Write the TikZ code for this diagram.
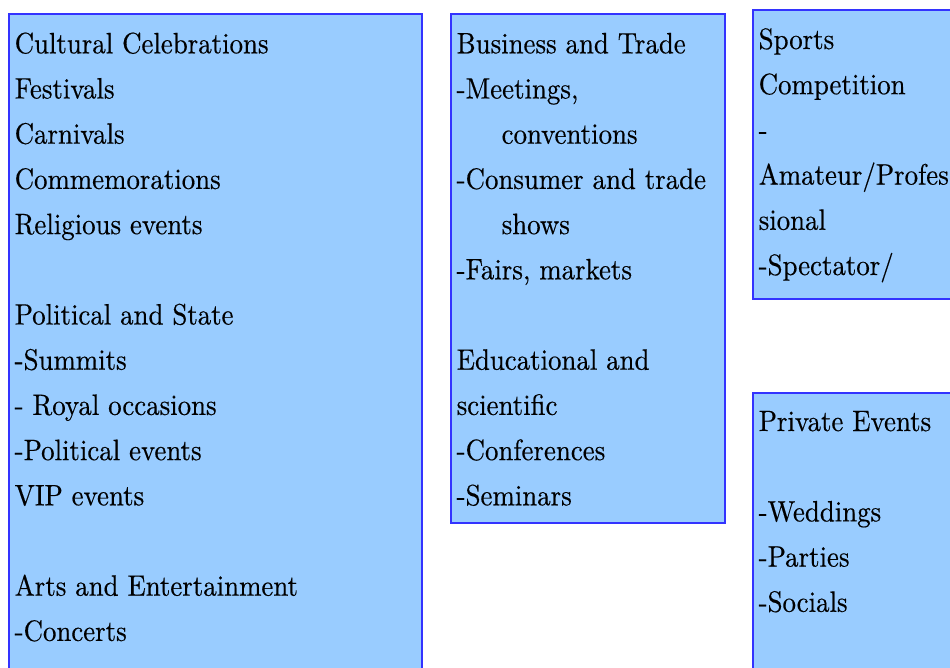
\documentclass[tikz,border=0pt]{standalone}
\usepackage{fontspec}
\newfontfamily\boxfont{lmroman10-regular.otf}[FakeStretch=0.91,FakeBold=0.4]
\definecolor{boxfill}{HTML}{99CCFF}
\definecolor{boxline}{HTML}{3333FF}
\begin{document}
\begin{tikzpicture}[x=1pt,y=-1pt,
  catbox/.style={draw=boxline,fill=boxfill,line width=2pt},
  txt/.style={anchor=base west,inner sep=0pt,font=\boxfont\fontsize{29.5}{30}\selectfont}]
\clip (0,0) rectangle (950,667);
\useasboundingbox (0,0) rectangle (950,667);
% boxes
\draw[catbox] (9,14) rectangle (422,700);
\draw[catbox] (451,14) rectangle (725,523);
\draw[catbox] (753,10) rectangle (990,299);
\draw[catbox] (753,393) rectangle (990,700);
% left box
\def\ls{45.2}
\node[txt] (l1) at (14.5,53.3) {Cultural Celebrations};
\node[txt] (l2) at (14.5,53.3+1*\ls) {Festivals};
\node[txt] (l3) at (14.5,53.3+2*\ls) {Carnivals};
\node[txt] (l4) at (14.5,53.3+3*\ls) {Commemorations};
\node[txt] (l5) at (14.5,53.3+4*\ls) {Religious events};
\node[txt] (l6) at (14.5,53.3+6*\ls) {Political and State};
\node[txt] (l7) at (14.5,53.3+7*\ls) {-Summits};
\node[txt] (l8) at (14.5,53.3+8*\ls) {- Royal occasions};
\node[txt] (l9) at (14.5,53.3+9*\ls) {-Political events};
\node[txt] (l10) at (14.5,53.3+10*\ls) {VIP events};
\node[txt] (l11) at (14.5,53.3+12*\ls) {Arts and Entertainment};
\node[txt] (l12) at (14.5,53.3+13*\ls) {-Concerts};
% middle box
\node[txt] (m1) at (456.5,53.3) {Business and Trade};
\node[txt] (m2) at (456.5,53.3+1*\ls) {-Meetings,};
\node[txt] (m3) at (501.5,53.3+2*\ls) {conventions};
\node[txt] (m4) at (456.5,53.3+3*\ls) {-Consumer and trade};
\node[txt] (m5) at (501.5,53.3+4*\ls) {shows};
\node[txt] (m6) at (456.5,53.3+5*\ls) {-Fairs, markets};
\node[txt] (m7) at (456.5,53.3+7*\ls) {Educational and};
\node[txt] (m8) at (456.5,53.3+8*\ls) {scientific};
\node[txt] (m9) at (456.5,53.3+9*\ls) {-Conferences};
\node[txt] (m10) at (456.5,53.3+10*\ls) {-Seminars};
% right top box
\node[txt] (r1) at (758.5,49) {Sports};
\node[txt] (r2) at (758.5,49+1*\ls) {Competition};
\node[txt] (r3) at (758.5,49+2*\ls) {-};
\node[txt] (r4) at (758.5,49+3*\ls) {Amateur/Profes};
\node[txt] (r5) at (758.5,49+4*\ls) {sional};
\node[txt] (r6) at (758.5,49+5*\ls) {-Spectator/};
% right bottom box
\node[txt] (p1) at (758.5,431) {Private Events};
\node[txt] (p2) at (758.5,431+2*\ls) {-Weddings};
\node[txt] (p3) at (758.5,431+3*\ls) {-Parties};
\node[txt] (p4) at (758.5,431+4*\ls) {-Socials};
\end{tikzpicture}
\end{document}
